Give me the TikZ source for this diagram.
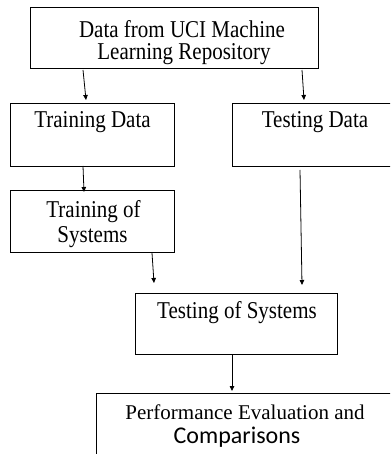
\documentclass[tikz,border=0pt]{standalone}
\usepackage{graphicx}
\usepackage{fontspec}
\setmainfont{Liberation Serif}
\newfontfamily\calib{Carlito}
\usetikzlibrary{arrows.meta,calc}
\newcommand\vstretch[1]{\scalebox{1}[1.15]{#1}}
\begin{document}
\begin{tikzpicture}[x={(1pt,0)},y={(0,-1pt)},
  box/.style={draw,line width=0.9pt,inner sep=0pt,outer sep=0pt,anchor=north west},
  lbl/.style={font=\fontsize{21}{21}\selectfont,inner sep=0pt,anchor=base},
  arr/.style={line width=0.8pt,-{Triangle[length=5pt,width=4.5pt]}}]
\clip (0,0) rectangle (390,454);
% boxes
\node[box,minimum width=288pt,minimum height=61pt] (b1) at (30,7) {};
\node[box,minimum width=164pt,minimum height=63pt] (trd) at (10,103) {};
\node[box,minimum width=170pt,minimum height=63pt] (ted) at (232,103) {};
\node[box,minimum width=164pt,minimum height=62pt] (trs) at (10,190) {};
\node[box,minimum width=202pt,minimum height=61pt] (tes) at (135,293) {};
\node[box,minimum width=306pt,minimum height=80pt] (pe) at (96,393) {};
% labels
\node[lbl] (t1a) at (182,38) {\vstretch{Data from UCI Machine}};
\node[lbl] (t1b) at (184,60) {\vstretch{Learning Repository}};
\node[lbl] (t2) at (92.5,128) {\vstretch{Training Data}};
\node[lbl] (t3) at (315,128) {\vstretch{Testing Data}};
\node[lbl] (t4a) at (93.5,217) {\vstretch{Training of}};
\node[lbl] (t4b) at (92.5,242) {\vstretch{Systems}};
\node[lbl] (t5) at (237,318) {\vstretch{Testing of Systems}};
\node[lbl] (t6a) at (245,419) {Performance Evaluation and};
\node[lbl,font=\calib\fontsize{24}{24}\selectfont] (t6b) at (237,443) {Comparisons};
% arrows
\draw[arr] ($(b1.south west)+(53,2)$) -- ($(trd.north west)+(76,-3)$);
\draw[arr] ($(b1.south west)+(272,2)$) -- ($(ted.north west)+(72,-3)$);
\draw[arr] ($(trd.south west)+(73,0)$) -- ($(trs.north west)+(74,2)$);
\draw[arr] ($(trs.south west)+(142,1)$) -- ($(tes.north west)+(19,-10)$);
\draw[arr] ($(ted.south west)+(68,4)$) -- ($(tes.north west)+(167,-8)$);
\draw[arr] ($(tes.south west)+(97,0)$) -- ($(pe.north west)+(136,-2)$);
\end{tikzpicture}
\end{document}
